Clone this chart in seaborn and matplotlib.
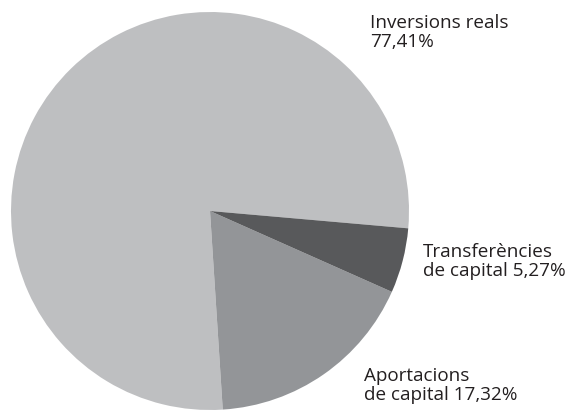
import matplotlib
matplotlib.use("Agg")
import matplotlib.pyplot as plt
import seaborn as sns

# data
categories = ["Inversions reals", "Aportacions de capital", "Transferències de capital"]
shares = [77.41, 17.32, 5.27]
label_texts = ["Inversions reals\n77,41%",
               "Aportacions\nde capital 17,32%",
               "Transferències\nde capital 5,27%"]
colors = ["#bebfc1", "#939598", "#58595b"]

sns.set_style("white")
plt.rcParams['font.family'] = ['Open Sans', 'DejaVu Sans']

fig = plt.figure(figsize=(5.79, 4.16), dpi=100)
# pie axes: circle centred at about (210, 211) px, radius ~199 px
ax = fig.add_axes([11 / 579, 6 / 416, 398 / 579, 398 / 416])
ax.pie(shares, colors=colors, startangle=-5, counterclock=True,
       wedgeprops={"linewidth": 0})
ax.set_xlim(-1, 1)
ax.set_ylim(-1, 1)
ax.set_aspect("equal")
ax.axis("off")

# labels placed outside the pie
positions = [(370 / 579, 1 - 14 / 416), (364 / 579, 1 - 367 / 416), (423 / 579, 1 - 243 / 416)]
for txt, (x, y) in zip(label_texts, positions):
    fig.text(x, y, txt, ha="left", va="top", fontsize=13.6, color="#231f20",
             linespacing=1.05)

fig.savefig("out.png", dpi=100)
